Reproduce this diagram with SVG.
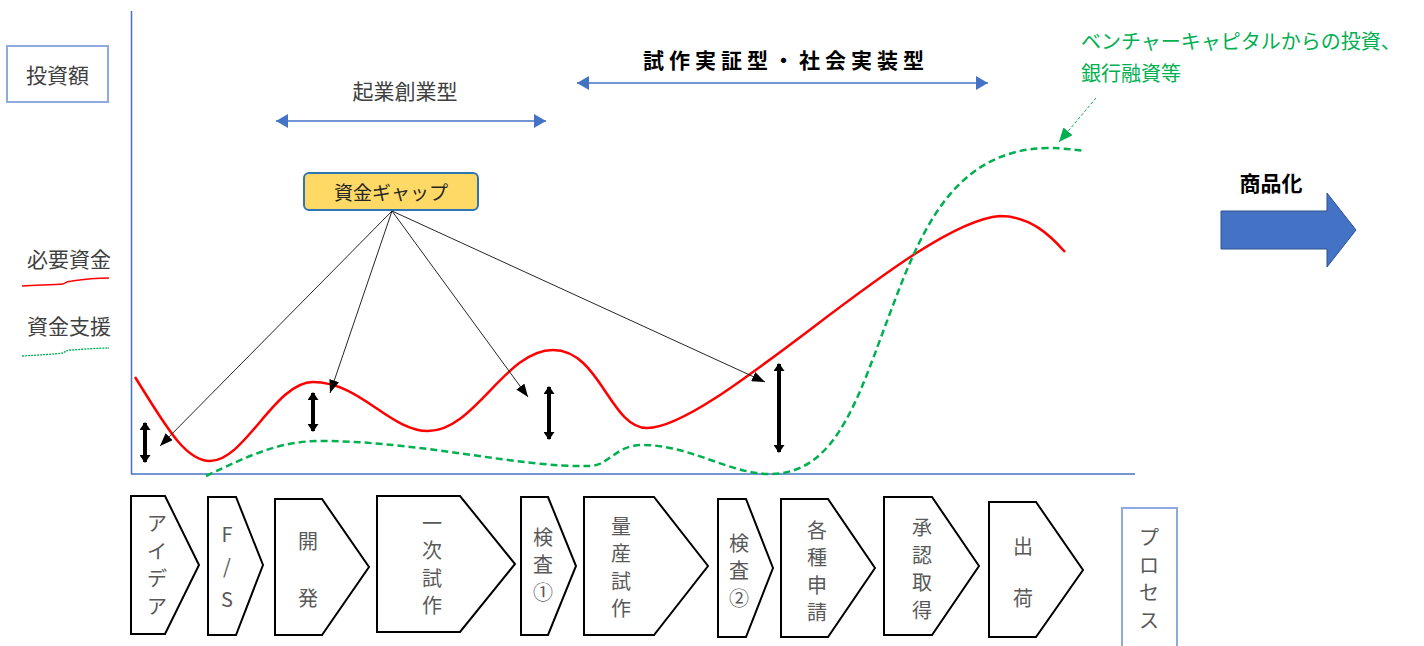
<svg xmlns="http://www.w3.org/2000/svg" width="1424" height="646" viewBox="0 0 1424 646">
<style>
text{font-family:"Noto Sans CJK JP","Noto Sans",sans-serif;}
.lbl{font-size:21px;fill:#404040;}
.proc{font-size:20px;fill:#595959;text-anchor:middle;dominant-baseline:central;}
.box{fill:#fff;stroke:#000;stroke-width:2;stroke-linejoin:miter;}
.axis{stroke:#4472c4;stroke-width:1.5;fill:none;}
.blue{stroke:#4472c4;stroke-width:1.5;fill:none;}
.ptr{stroke:#262626;stroke-width:1;fill:none;}
.gap{stroke:#000;stroke-width:4;fill:none;}
.red{stroke:#ff0000;stroke-width:2.5;fill:none;}
.green{stroke:#00b050;stroke-width:2.5;fill:none;stroke-dasharray:7 4;}
.gtext{font-size:20px;fill:#00b050;}
.lbox{fill:#fff;stroke:#8faadc;stroke-width:2;}
</style>
<defs>
<marker id="bh" viewBox="0 0 12 14" refX="12" refY="7" markerWidth="12" markerHeight="14" markerUnits="userSpaceOnUse" orient="auto-start-reverse"><path d="M0,0L12,7L0,14Z" fill="#4472c4"/></marker>
<marker id="kh" viewBox="0 0 13 10" refX="13" refY="5" markerWidth="13" markerHeight="10" markerUnits="userSpaceOnUse" orient="auto"><path d="M0,0L13,5L0,10Z" fill="#000"/></marker>
<marker id="th" viewBox="0 0 8 11" refX="7" refY="5.5" markerWidth="8" markerHeight="11" markerUnits="userSpaceOnUse" orient="auto-start-reverse"><path d="M0,0L8,5.5L0,11Z" fill="#000"/></marker>
<marker id="gh" viewBox="0 0 14 12" refX="14" refY="6" markerWidth="14" markerHeight="12" markerUnits="userSpaceOnUse" orient="auto"><path d="M0,0L14,6L0,12Z" fill="#00b050"/></marker>
</defs>

<g id="axes">
<line class="axis" x1="131.5" y1="11" x2="131.5" y2="474"/>
<line class="axis" x1="131" y1="474" x2="1135" y2="474"/>
</g>

<g id="y-label">
<rect class="lbox" x="7" y="46" width="101" height="56"/>
<text class="lbl" x="57.5" y="74" text-anchor="middle" dominant-baseline="central">投資額</text>
</g>

<g id="legend">
<text class="lbl" x="27" y="258" dominant-baseline="central">必要資金</text>
<path d="M22,286 C40,285 55,285 63,284 C66,282 68,281 72,281 C85,279 100,278 109,278" stroke="#ff0000" stroke-width="1.5" fill="none"/>
<text class="lbl" x="27" y="325" dominant-baseline="central">資金支援</text>
<path d="M22,356 C40,355 55,354 63,353 C66,351 68,350 72,350 C85,349 100,348 109,348" stroke="#00b050" stroke-width="1.3" fill="none" stroke-dasharray="2 1"/>
</g>

<g id="phase1">
<text class="lbl" x="405" y="90" text-anchor="middle" dominant-baseline="central" font-size="20">起業創業型</text>
<line class="blue" x1="276" y1="121" x2="546" y2="121" marker-start="url(#bh)" marker-end="url(#bh)"/>
</g>

<g id="phase2">
<text x="643" y="59" dominant-baseline="central" font-size="21" font-weight="bold" fill="#000" letter-spacing="5">試作実証型・社会実装型</text>
<line class="blue" x1="577" y1="83" x2="988" y2="83" marker-start="url(#bh)" marker-end="url(#bh)"/>
</g>

<g id="funding-gap">
<rect x="304" y="173" width="174" height="37" rx="5" fill="#ffd966" stroke="#2e75b6" stroke-width="2"/>
<text x="391" y="191.5" text-anchor="middle" dominant-baseline="central" font-size="19" fill="#262626">資金ギャップ</text>
</g>

<g id="curves">
<path class="red" d="M135,377 C165,425 185,461 210,461 C245,461 275,382 313,382 C360,382 390,431 428,431 C475,431 505,350 553,350 C600,350 610,428 647,428 C715,428 915,222 1000,216 C1030,216 1050,235 1065,252"/>
<path class="green" d="M206,476 C250,455 280,441 320,441 C420,441 520,468 590,466 C610,465 615,445 643,445 C690,445 730,474 770,474 C840,474 860,390 895,300 C925,220 960,150 1047,148 C1065,148 1075,150 1085,151"/>
</g>

<g id="connectors">
<line class="ptr" x1="392" y1="211" x2="160" y2="446" marker-end="url(#kh)"/>
<line class="ptr" x1="392" y1="211" x2="330" y2="393" marker-end="url(#kh)"/>
<line class="ptr" x1="392" y1="211" x2="528" y2="397" marker-end="url(#kh)"/>
<line class="ptr" x1="392" y1="211" x2="765" y2="382" marker-end="url(#kh)"/>
<line class="gap" x1="145" y1="423" x2="145" y2="462" marker-start="url(#th)" marker-end="url(#th)"/>
<line class="gap" x1="313" y1="393" x2="313" y2="431" marker-start="url(#th)" marker-end="url(#th)"/>
<line class="gap" x1="549" y1="387" x2="549" y2="439" marker-start="url(#th)" marker-end="url(#th)"/>
<line class="gap" x1="779" y1="364" x2="779" y2="452" marker-start="url(#th)" marker-end="url(#th)"/>
<line x1="1096" y1="98" x2="1059" y2="142" stroke="#00b050" stroke-width="1" stroke-dasharray="3 2" marker-end="url(#gh)"/>
</g>

<g id="vc-note">
<text class="gtext" x="1081" y="40" dominant-baseline="central">ベンチャーキャピタルからの投資、</text>
<text class="gtext" x="1081" y="72" dominant-baseline="central">銀行融資等</text>
</g>

<g id="commercialization">
<text x="1271" y="182" text-anchor="middle" dominant-baseline="central" font-size="21" font-weight="bold" fill="#000">商品化</text>
<path d="M1221,211 L1327,211 L1327,193 L1356,230 L1327,267 L1327,249 L1221,249 Z" fill="#4472c4" stroke="#2f528f" stroke-width="1"/>
</g>

<g id="p1"><polygon class="box" points="131,496 165,496 199,565 165,634 131,634"/>
<text class="proc"><tspan x="157" y="522.25">ア</tspan><tspan x="157" y="549.75">イ</tspan><tspan x="157" y="577.25">デ</tspan><tspan x="157" y="604.75">ア</tspan></text></g>
<g id="p2"><polygon class="box" points="208,497 236,497 263,565 236,635 208,635"/>
<text class="proc"><tspan x="227" y="533">F</tspan><tspan x="227" y="565">/</tspan><tspan x="227" y="598">S</tspan></text></g>
<g id="p3"><polygon class="box" points="275,499 322,499 369,567 322,635 275,635"/>
<text class="proc"><tspan x="308" y="540">開</tspan><tspan x="308" y="597">発</tspan></text></g>
<g id="p4"><polygon class="box" points="377,496 460,496 515,564 460,632 377,632"/>
<text class="proc"><tspan x="432" y="521.75">一</tspan><tspan x="432" y="549.25">次</tspan><tspan x="432" y="576.75">試</tspan><tspan x="432" y="604.25">作</tspan></text></g>
<g id="p5"><polygon class="box" points="521,497 548,497 576,566 548,635 521,635"/>
<text class="proc"><tspan x="543" y="535.5">検</tspan><tspan x="543" y="563">査</tspan><tspan x="543" y="590.5">①</tspan></text></g>
<g id="p6"><polygon class="box" points="584,497 654,497 708,566 654,635 584,635"/>
<text class="proc"><tspan x="621" y="524.75">量</tspan><tspan x="621" y="552.25">産</tspan><tspan x="621" y="579.75">試</tspan><tspan x="621" y="607.25">作</tspan></text></g>
<g id="p7"><polygon class="box" points="718,499 746,499 773,568 746,637 718,637"/>
<text class="proc"><tspan x="739" y="541.5">検</tspan><tspan x="739" y="569">査</tspan><tspan x="739" y="596.5">②</tspan></text></g>
<g id="p8"><polygon class="box" points="781,499 828,499 875,568 828,637 781,637"/>
<text class="proc"><tspan x="817" y="528.75">各</tspan><tspan x="817" y="556.25">種</tspan><tspan x="817" y="583.75">申</tspan><tspan x="817" y="611.25">請</tspan></text></g>
<g id="p9"><polygon class="box" points="884,497 932,497 979,566 932,635 884,635"/>
<text class="proc"><tspan x="922" y="526.25">承</tspan><tspan x="922" y="553.75">認</tspan><tspan x="922" y="581.25">取</tspan><tspan x="922" y="608.75">得</tspan></text></g>
<g id="p10"><polygon class="box" points="989,502 1036,502 1083,570 1036,637 989,637"/>
<text class="proc"><tspan x="1023" y="545">出</tspan><tspan x="1023" y="597">荷</tspan></text></g>

<g id="x-label">
<rect class="lbox" x="1122" y="508" width="55" height="146"/>
<text class="proc"><tspan x="1149" y="536.25">プ</tspan><tspan x="1149" y="563.75">ロ</tspan><tspan x="1149" y="591.25">セ</tspan><tspan x="1149" y="618.75">ス</tspan></text>
</g>
</svg>
